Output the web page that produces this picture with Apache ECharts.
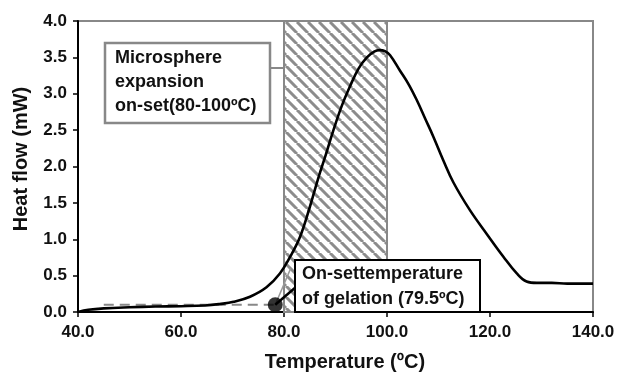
<!DOCTYPE html>
<html>
<head>
<meta charset="utf-8">
<script src="https://cdn.jsdelivr.net/npm/echarts@6/dist/echarts.min.js"></script>
<style>
  html, body { margin: 0; padding: 0; background: #fff; }
  #chart { width: 619px; height: 372px; }
</style>
</head>
<body>
<div id="chart"></div>
<script>
const temps = [40, 42, 45, 50, 55, 60, 64.7, 67.5, 70.2, 73.4, 76.6, 79.2, 81.2, 83.1, 85, 86.7, 88.2, 89.6, 91.2, 92.8, 94.5, 96.1, 97.5, 98.6, 99.6, 100.6, 102.5, 104.2, 105.8, 107.4, 109, 110.9, 112.9, 116.1, 119.4, 122.6, 125.2, 127.1, 129.1, 132, 135, 137, 140]
const heatFlow = [0, 0.03, 0.05, 0.065, 0.075, 0.08, 0.09, 0.11, 0.14, 0.21, 0.34, 0.53, 0.76, 1.03, 1.44, 1.85, 2.18, 2.5, 2.83, 3.1, 3.35, 3.5, 3.58, 3.6, 3.585, 3.53, 3.32, 3.13, 2.91, 2.66, 2.41, 2.09, 1.78, 1.4, 1.07, 0.76, 0.53, 0.42, 0.4, 0.4, 0.39, 0.39, 0.39]

const baselineX = [45, 78]
const baselineY = [0.1, 0.1]
const tangentX = [78.3, 81.3]
const tangentY = [0.1, 0.6]
const onsetX = [78.3]
const onsetY = [0.1]
const pointerX = [78.3, 82.1]
const pointerY = [0.1, 0.33]
const expansionRange = [80, 100]

const xTicks = [40, 60, 80, 100, 120, 140]
const yTicks = [0, 0.5, 1, 1.5, 2, 2.5, 3, 3.5, 4]

const font = 'Liberation Sans, Arial, sans-serif'

function zip(xs, ys) {
  return xs.map((x, i) => [x, ys[i]])
}

// diagonal hatch tile for the expansion window
function hatch() {
  const s = 11
  const c = document.createElement('canvas')
  c.width = s
  c.height = s
  const ctx = c.getContext('2d')
  ctx.fillStyle = '#fff'
  ctx.fillRect(0, 0, s, s)
  ctx.strokeStyle = '#8c8c8c'
  ctx.lineWidth = 3
  ctx.beginPath()
  for (const k of [-s, 0, s]) {
    ctx.moveTo(k, 0)
    ctx.lineTo(k + s, s)
  }
  ctx.stroke()
  return c
}

const chart = echarts.init(document.getElementById('chart'))
chart.setOption({
  animation: false,
  grid: {
    left: 78, right: 26, top: 21, bottom: 60,
    show: true, borderColor: '#888', borderWidth: 2,
  },
  xAxis: {
    type: 'value',
    min: xTicks[0], max: xTicks[xTicks.length - 1], interval: 20,
    axisLine: { lineStyle: { color: '#000', width: 2 } },
    axisTick: { show: true, length: 5, lineStyle: { color: '#000', width: 1.5 } },
    splitLine: { show: false },
    axisLabel: {
      margin: 12, color: '#111', fontFamily: font, fontWeight: 'bold', fontSize: 17,
      formatter: (v) => v.toFixed(1),
    },
  },
  yAxis: {
    type: 'value',
    min: yTicks[0], max: yTicks[yTicks.length - 1], interval: 0.5,
    axisLine: { lineStyle: { color: '#000', width: 2 } },
    axisTick: { show: true, length: 5, lineStyle: { color: '#000', width: 1.5 } },
    splitLine: { show: false },
    axisLabel: {
      margin: 11, color: '#111', fontFamily: font, fontWeight: 'bold', fontSize: 17,
      formatter: (v) => v.toFixed(1),
    },
  },
  series: [
    {
      type: 'line',
      data: zip(temps, heatFlow),
      symbol: 'none',
      smooth: 0.4,
      z: 5,
      lineStyle: { color: '#000', width: 2.6 },
      markArea: {
        silent: true,
        itemStyle: {
          color: { image: hatch(), repeat: 'repeat' },
          borderColor: '#888',
          borderWidth: 2,
        },
        data: [[{ xAxis: expansionRange[0] }, { xAxis: expansionRange[1] }]],
      },
    },
    {
      type: 'line',
      data: zip(baselineX, baselineY),
      symbol: 'none',
      z: 3,
      lineStyle: { color: '#888', width: 2, type: [10, 6] },
    },
    {
      type: 'line',
      data: zip(tangentX, tangentY),
      symbol: 'none',
      z: 3,
      lineStyle: { color: '#999', width: 1.5 },
    },
    {
      type: 'line',
      data: zip(pointerX, pointerY),
      symbol: 'none',
      z: 6,
      lineStyle: { color: '#000', width: 2.5 },
    },
    {
      type: 'scatter',
      data: zip(onsetX, onsetY),
      symbolSize: 15,
      z: 7,
      itemStyle: { color: '#000' },
    },
  ],
  graphic: [
    {
      type: 'text', x: 345, y: 362,
      style: {
        text: 'Temperature (ºC)', fill: '#111', font: 'bold 20px ' + font,
        align: 'center', verticalAlign: 'middle',
      },
    },
    {
      type: 'text', rotation: Math.PI / 2, x: 21, y: 159,
      style: {
        text: 'Heat flow (mW)', fill: '#111', font: 'bold 20px ' + font,
        align: 'center', verticalAlign: 'middle',
      },
    },
    {
      type: 'line', z: 10,
      shape: { x1: 270, y1: 68, x2: 284, y2: 68 },
      style: { stroke: '#888', lineWidth: 2 },
    },
    {
      type: 'rect', z: 10,
      shape: { x: 105, y: 43, width: 165, height: 80 },
      style: { fill: '#fff', stroke: '#888', lineWidth: 2.5 },
    },
    {
      type: 'text', z: 11, x: 115, y: 46,
      style: {
        text: 'Microsphere\nexpansion\non-set(80-100ºC)',
        fill: '#111', font: 'bold 18px ' + font, lineHeight: 24,
      },
    },
    {
      type: 'rect', z: 10,
      shape: { x: 295, y: 260, width: 185, height: 52 },
      style: { fill: '#fff', stroke: '#000', lineWidth: 2 },
    },
    {
      type: 'text', z: 11, x: 302, y: 262,
      style: {
        text: 'On-settemperature\nof gelation (79.5ºC)',
        fill: '#111', font: 'bold 18px ' + font, lineHeight: 25,
      },
    },
  ],
})
</script>
</body>
</html>
